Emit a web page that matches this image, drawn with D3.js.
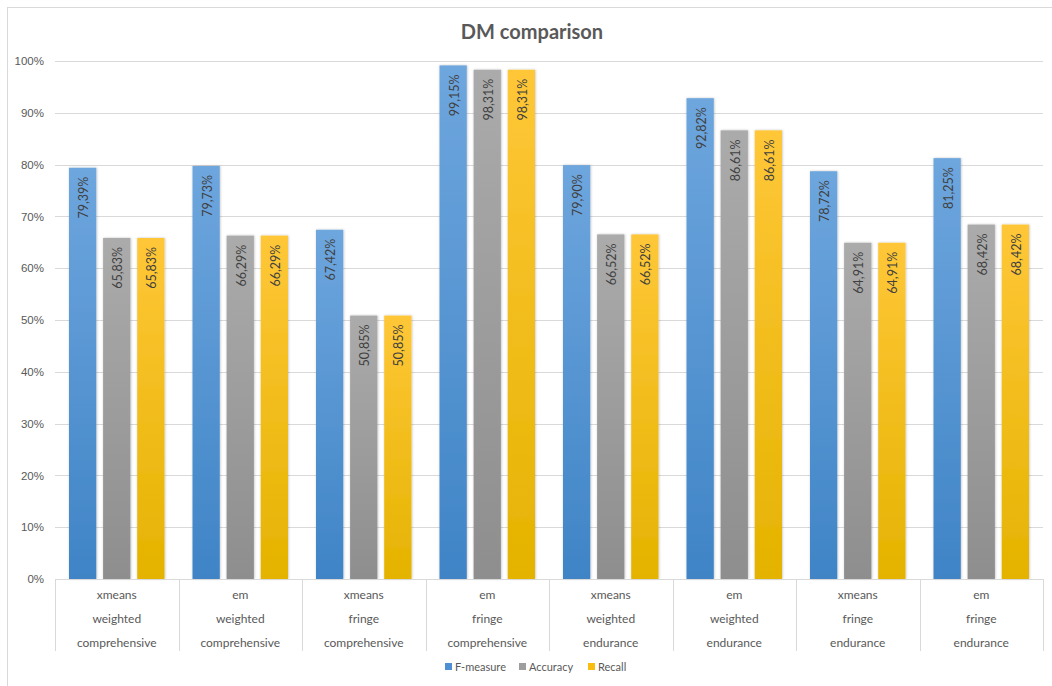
<!DOCTYPE html>
<html>
<head>
<meta charset="utf-8">
<script src="https://cdn.jsdelivr.net/npm/d3@7"></script>
<style>
  html, body { margin: 0; padding: 0; background: #fff; }
  svg { display: block; font-family: Lato, "Open Sans", sans-serif; }
</style>
</head>
<body>
<svg id="chart" width="1052" height="686"></svg>
<script>
// Clustering method / weighting / dataset for each group
const methods  = ["xmeans", "em", "xmeans", "em", "xmeans", "em", "xmeans", "em"];
const weights  = ["weighted", "weighted", "fringe", "fringe", "weighted", "weighted", "fringe", "fringe"];
const datasets = ["comprehensive", "comprehensive", "comprehensive", "comprehensive",
                  "endurance", "endurance", "endurance", "endurance"];

const seriesNames = ["F-measure", "Accuracy", "Recall"];
const fMeasure = [79.39, 79.73, 67.42, 99.15, 79.90, 92.82, 78.72, 81.25];
const accuracy = [65.83, 66.29, 50.85, 98.31, 66.52, 86.61, 64.91, 68.42];
const recall   = [65.83, 66.29, 50.85, 98.31, 66.52, 86.61, 64.91, 68.42];
const yTicks = [0, 10, 20, 30, 40, 50, 60, 70, 80, 90, 100];

const seriesValues = [fMeasure, accuracy, recall];
const seriesColors = [
  { top: "#6ea6de", bottom: "#3f84c6", legend: "#4f8fd4" },
  { top: "#ababab", bottom: "#8e8e8e", legend: "#9e9e9e" },
  { top: "#ffc738", bottom: "#e4b300", legend: "#f8bd10" }
];

const svg = d3.select("#chart");
const W = 1052, H = 686;
const plot = { left: 55, right: 1043, top: 61, bottom: 579 };

// Outer chart frame
svg.append("rect")
  .attr("x", 7.5).attr("y", 7.5)
  .attr("width", W + 20).attr("height", H + 20)
  .attr("fill", "#fff").attr("stroke", "#d9d9d9").attr("stroke-width", 1);

// Gradients for the bars
const defs = svg.append("defs");
seriesColors.forEach((c, i) => {
  const g = defs.append("linearGradient")
    .attr("id", "grad" + i).attr("x1", 0).attr("y1", 0).attr("x2", 0).attr("y2", 1);
  g.append("stop").attr("offset", "0%").attr("stop-color", c.top);
  g.append("stop").attr("offset", "100%").attr("stop-color", c.bottom);
});
const filt = defs.append("filter").attr("id", "shadow")
  .attr("x", "-20%").attr("y", "-5%").attr("width", "140%").attr("height", "110%");
filt.append("feDropShadow").attr("dx", 0.5).attr("dy", 0).attr("stdDeviation", 1)
  .attr("flood-color", "#000").attr("flood-opacity", 0.25);

const groups = d3.range(methods.length);
const x0 = d3.scaleBand().domain(groups).range([plot.left, plot.right]).paddingInner(0).paddingOuter(0);
const x1 = d3.scaleBand().domain(d3.range(3)).range([14, x0.bandwidth() - 14]).paddingInner(0.2).paddingOuter(0);
const y = d3.scaleLinear().domain([0, 100]).range([plot.bottom, plot.top]);

// Horizontal gridlines
svg.append("g").selectAll("line").data(yTicks.filter(d => d > 0)).join("line")
  .attr("x1", plot.left).attr("x2", plot.right)
  .attr("y1", d => Math.round(y(d)) + 0.5).attr("y2", d => Math.round(y(d)) + 0.5)
  .attr("stroke", "#d9d9d9").attr("stroke-width", 1);

// Y axis labels
const yAxis = d3.axisLeft(y).tickValues(yTicks).tickFormat(d => d + "%").tickSize(0).tickPadding(0);
const yg = svg.append("g").attr("transform", `translate(${plot.left - 11},0)`).call(yAxis);
yg.select(".domain").remove();
yg.selectAll("text").attr("fill", "#595959").attr("font-size", 11.5);

// Bars
const gEl = svg.append("g").selectAll("g").data(groups).join("g")
  .attr("transform", d => `translate(${x0(d)},0)`);

seriesValues.forEach((vals, s) => {
  gEl.append("rect")
    .attr("x", x1(s)).attr("width", x1.bandwidth())
    .attr("y", d => y(vals[d])).attr("height", d => y(0) - y(vals[d]))
    .attr("fill", `url(#grad${s})`)
    .attr("filter", "url(#shadow)");
  gEl.append("text")
    .attr("transform", d => `translate(${x1(s) + x1.bandwidth() / 2 + 5.5},${y(vals[d]) + 9}) rotate(-90)`)
    .attr("text-anchor", "end")
    .attr("font-size", 12.5)
    .attr("fill", "#404040")
    .text(d => vals[d].toFixed(2).replace(".", ",") + "%");
});

// Category axis baseline and separators
svg.append("line")
  .attr("x1", plot.left).attr("x2", plot.right)
  .attr("y1", plot.bottom + 0.5).attr("y2", plot.bottom + 0.5)
  .attr("stroke", "#d9d9d9");
svg.append("g").selectAll("line").data(d3.range(methods.length + 1)).join("line")
  .attr("x1", d => Math.round(plot.left + d * x0.bandwidth()) + 0.5)
  .attr("x2", d => Math.round(plot.left + d * x0.bandwidth()) + 0.5)
  .attr("y1", plot.bottom).attr("y2", 651)
  .attr("stroke", "#d9d9d9");

// Multi-level category labels
const levels = [methods, weights, datasets];
levels.forEach((arr, li) => {
  svg.append("g").selectAll("text").data(groups).join("text")
    .attr("x", d => x0(d) + x0.bandwidth() / 2)
    .attr("y", 599 + li * 24)
    .attr("text-anchor", "middle")
    .attr("font-size", 12)
    .attr("fill", "#595959")
    .text(d => arr[d]);
});

// Title
svg.append("text")
  .attr("x", 532).attr("y", 39)
  .attr("text-anchor", "middle")
  .attr("font-size", 20).attr("font-weight", "bold")
  .attr("fill", "#595959")
  .text("DM comparison");

// Legend
const legendX = [445, 519, 588];
const lg = svg.append("g").selectAll("g").data(seriesNames).join("g")
  .attr("transform", (d, i) => `translate(${legendX[i]},663)`);
lg.append("rect").attr("width", 7).attr("height", 7).attr("y", 0)
  .attr("fill", (d, i) => seriesColors[i].legend);
lg.append("text").attr("x", 10).attr("y", 7.5)
  .attr("font-size", 11).attr("fill", "#595959")
  .text(d => d);
</script>
</body>
</html>
